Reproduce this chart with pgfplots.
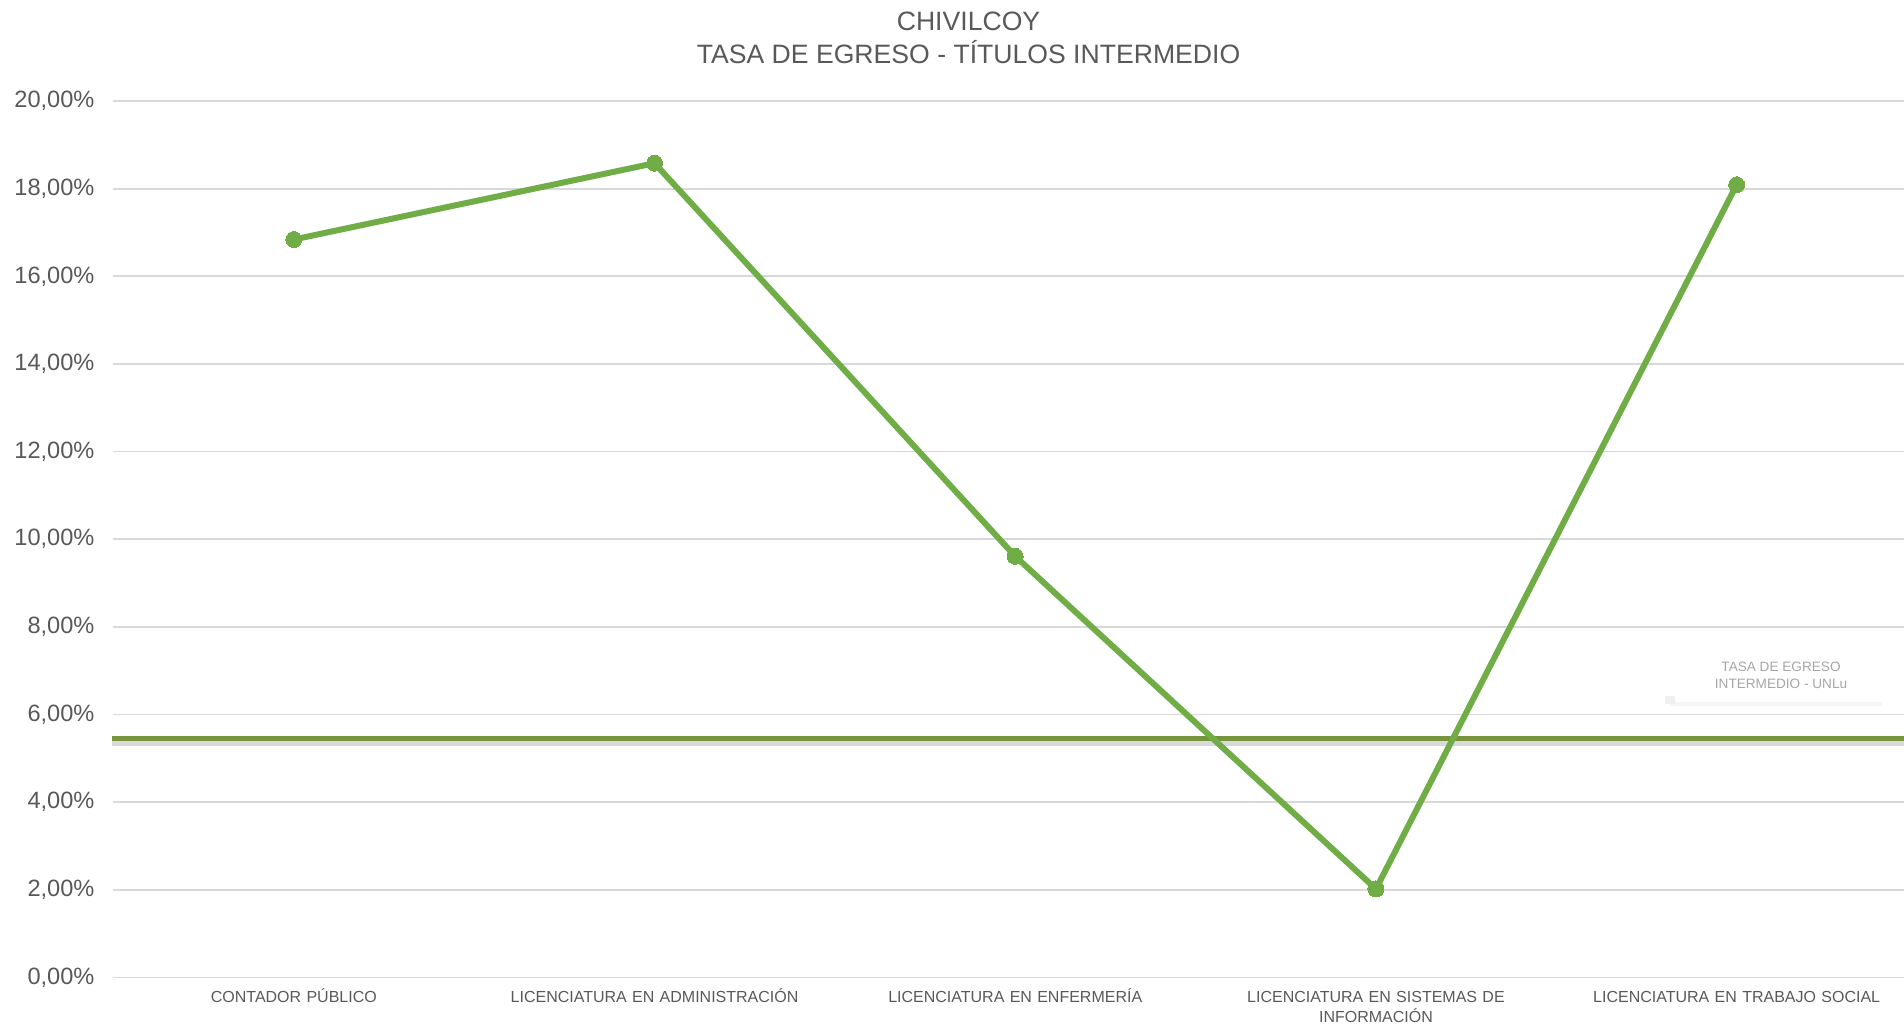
\documentclass[border=0pt]{standalone}
\usepackage{pgfplots}
\pgfplotsset{compat=1.18}
\usepackage{fontspec}
\setmainfont{Liberation Sans}
\definecolor{serie}{HTML}{70AD47}
\definecolor{promedio}{HTML}{77933C}
\definecolor{grilla}{HTML}{D9D9D9}
\definecolor{texto}{HTML}{595959}

\begin{document}
\begin{tikzpicture}
\useasboundingbox (-56.75pt,-24.25pt) rectangle (895.25pt,488.75pt);
\begin{axis}[
    at={(0,0)}, anchor=south west,
    scale only axis, width=901.75pt, height=438.25pt,
    xmin=-0.5, xmax=4.5, ymin=0, ymax=20,
    xtick={0,1,2,3,4},
    xticklabels={CONTADOR PÚBLICO, LICENCIATURA EN ADMINISTRACIÓN, LICENCIATURA EN ENFERMERÍA, LICENCIATURA EN SISTEMAS DE\vphantom{ÓÍ}\\INFORMACIÓN, LICENCIATURA EN TRABAJO SOCIAL\vphantom{ÓÍ}},
    xticklabel style={font=\fontsize{8}{9.7}\selectfont, text=texto, align=center, text width=170pt, yshift=-2.2pt},
    ytick={0,2,...,20},
    yticklabel={\pgfmathprintnumber[fixed, fixed zerofill, precision=2, use comma]{\tick}\%},
    yticklabel style={font=\fontsize{11.8}{13}\selectfont, text=texto, xshift=-6pt},
    /pgf/number format/assume math mode=true,
    axis line style={draw=none},
    major tick length=0pt,
    ymajorgrids, grid style={grilla, line width=0.9pt},
    clip=false,
]
\addplot[draw=gray!30, line width=2.5pt, forget plot] coordinates {(-0.505,5.35) (4.5,5.35)};
\addplot[draw=promedio, line width=2.5pt, forget plot] coordinates {(-0.505,5.46) (4.5,5.46)};
\addplot[draw=gray!8, line width=2pt, forget plot] coordinates {(3.814,6.23) (4.403,6.23)};
\addplot[draw=gray!12, line width=4pt, forget plot] coordinates {(3.80,6.33) (3.83,6.33)};
\addplot[draw=serie, line width=3pt, mark=*, mark size=4pt, mark options={fill=serie, draw=serie, line width=0pt}]
  coordinates {(0,16.84) (1,18.58) (2,9.61) (3,2.02) (4,18.09)};
\node[font=\fontsize{6.8}{8.6}\selectfont, text=gray!70, align=center] at (axis cs:4.123,6.9) {TASA DE EGRESO\\INTERMEDIO - UNLu};
\end{axis}
\node[font=\fontsize{13.3}{16.4}\selectfont, text=texto, align=center] at (427.5pt,470pt) {CHIVILCOY\\TASA DE EGRESO - TÍTULOS INTERMEDIO};
\end{tikzpicture}
\end{document}
